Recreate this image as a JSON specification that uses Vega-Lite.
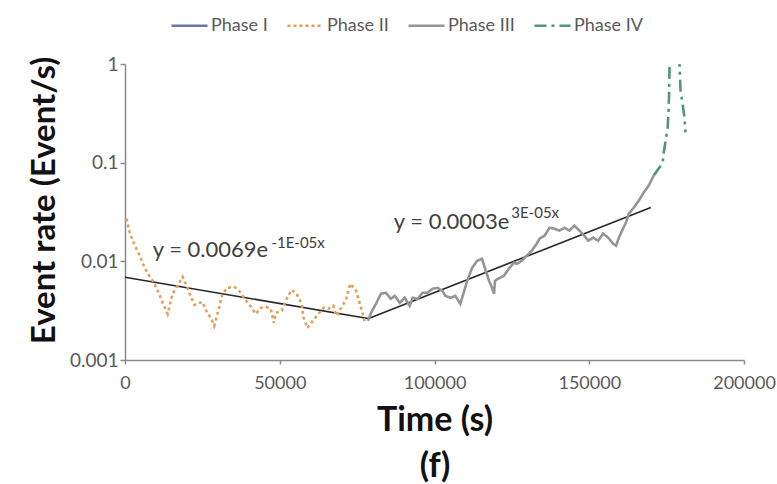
{
  "$schema": "https://vega.github.io/schema/vega-lite/v6.json",
  "width": 619,
  "height": 296,
  "autosize": {"type": "none"},
  "padding": {"left": 125, "top": 64, "right": 33, "bottom": 124},
  "background": "white",
  "config": {
    "view": {"stroke": null},
    "font": "Lato",
    "axis": {"grid": false, "domainColor": "#8a8a8a", "domainWidth": 1.5, "tickColor": "#8a8a8a", "tickWidth": 1.5, "labelColor": "#595959", "labelFont": "Lato", "titleFont": "Lato", "titleColor": "#111111", "labelFlush": false}
  },
  "datasets": {
    "phases": [
      {"phase": "Phase II", "t": 500, "v": 0.0271},
      {"phase": "Phase II", "t": 1600, "v": 0.0191},
      {"phase": "Phase II", "t": 3200, "v": 0.0144},
      {"phase": "Phase II", "t": 4810, "v": 0.0114},
      {"phase": "Phase II", "t": 5770, "v": 0.00946},
      {"phase": "Phase II", "t": 7370, "v": 0.00748},
      {"phase": "Phase II", "t": 8970, "v": 0.00635},
      {"phase": "Phase II", "t": 10580, "v": 0.00502},
      {"phase": "Phase II", "t": 12180, "v": 0.0038},
      {"phase": "Phase II", "t": 13780, "v": 0.00293},
      {"phase": "Phase II", "t": 14420, "v": 0.00354},
      {"phase": "Phase II", "t": 15380, "v": 0.00469},
      {"phase": "Phase II", "t": 16990, "v": 0.00565},
      {"phase": "Phase II", "t": 18590, "v": 0.00697},
      {"phase": "Phase II", "t": 20190, "v": 0.00539},
      {"phase": "Phase II", "t": 21150, "v": 0.00447},
      {"phase": "Phase II", "t": 22440, "v": 0.00362},
      {"phase": "Phase II", "t": 25000, "v": 0.00388},
      {"phase": "Phase II", "t": 26280, "v": 0.00315},
      {"phase": "Phase II", "t": 27880, "v": 0.00261},
      {"phase": "Phase II", "t": 28850, "v": 0.00222},
      {"phase": "Phase II", "t": 29490, "v": 0.00267},
      {"phase": "Phase II", "t": 30450, "v": 0.00346},
      {"phase": "Phase II", "t": 31410, "v": 0.00458},
      {"phase": "Phase II", "t": 33010, "v": 0.00539},
      {"phase": "Phase II", "t": 35260, "v": 0.00552},
      {"phase": "Phase II", "t": 36860, "v": 0.00502},
      {"phase": "Phase II", "t": 38460, "v": 0.00427},
      {"phase": "Phase II", "t": 40700, "v": 0.00346},
      {"phase": "Phase II", "t": 42310, "v": 0.00293},
      {"phase": "Phase II", "t": 43910, "v": 0.00338},
      {"phase": "Phase II", "t": 45510, "v": 0.00346},
      {"phase": "Phase II", "t": 47110, "v": 0.0033},
      {"phase": "Phase II", "t": 48080, "v": 0.00238},
      {"phase": "Phase II", "t": 48720, "v": 0.003},
      {"phase": "Phase II", "t": 50640, "v": 0.00315},
      {"phase": "Phase II", "t": 52240, "v": 0.00417},
      {"phase": "Phase II", "t": 53850, "v": 0.00514},
      {"phase": "Phase II", "t": 55450, "v": 0.00469},
      {"phase": "Phase II", "t": 57050, "v": 0.00371},
      {"phase": "Phase II", "t": 57690, "v": 0.00267},
      {"phase": "Phase II", "t": 58970, "v": 0.00211},
      {"phase": "Phase II", "t": 60900, "v": 0.00255},
      {"phase": "Phase II", "t": 62500, "v": 0.00293},
      {"phase": "Phase II", "t": 64100, "v": 0.00338},
      {"phase": "Phase II", "t": 65700, "v": 0.0033},
      {"phase": "Phase II", "t": 67300, "v": 0.00354},
      {"phase": "Phase II", "t": 68270, "v": 0.0028},
      {"phase": "Phase II", "t": 69870, "v": 0.00338},
      {"phase": "Phase II", "t": 71470, "v": 0.00417},
      {"phase": "Phase II", "t": 72750, "v": 0.00592},
      {"phase": "Phase II", "t": 74680, "v": 0.00502},
      {"phase": "Phase II", "t": 76280, "v": 0.00338},
      {"phase": "Phase II", "t": 77560, "v": 0.00238},
      {"phase": "Phase III", "t": 78520, "v": 0.00249},
      {"phase": "Phase III", "t": 79480, "v": 0.003},
      {"phase": "Phase III", "t": 81090, "v": 0.00371},
      {"phase": "Phase III", "t": 82690, "v": 0.00469},
      {"phase": "Phase III", "t": 84290, "v": 0.0048},
      {"phase": "Phase III", "t": 85890, "v": 0.00417},
      {"phase": "Phase III", "t": 87180, "v": 0.00447},
      {"phase": "Phase III", "t": 88780, "v": 0.0038},
      {"phase": "Phase III", "t": 90380, "v": 0.00427},
      {"phase": "Phase III", "t": 91980, "v": 0.00354},
      {"phase": "Phase III", "t": 92950, "v": 0.00427},
      {"phase": "Phase III", "t": 94550, "v": 0.00417},
      {"phase": "Phase III", "t": 96150, "v": 0.0048},
      {"phase": "Phase III", "t": 97750, "v": 0.0048},
      {"phase": "Phase III", "t": 99350, "v": 0.00527},
      {"phase": "Phase III", "t": 100960, "v": 0.00539},
      {"phase": "Phase III", "t": 102560, "v": 0.00502},
      {"phase": "Phase III", "t": 103520, "v": 0.00447},
      {"phase": "Phase III", "t": 105120, "v": 0.00427},
      {"phase": "Phase III", "t": 106730, "v": 0.00447},
      {"phase": "Phase III", "t": 108330, "v": 0.00371},
      {"phase": "Phase III", "t": 109610, "v": 0.00502},
      {"phase": "Phase III", "t": 110570, "v": 0.00635},
      {"phase": "Phase III", "t": 112170, "v": 0.00861},
      {"phase": "Phase III", "t": 113780, "v": 0.01014},
      {"phase": "Phase III", "t": 115380, "v": 0.01062},
      {"phase": "Phase III", "t": 116340, "v": 0.00841},
      {"phase": "Phase III", "t": 117620, "v": 0.00635},
      {"phase": "Phase III", "t": 118590, "v": 0.00539},
      {"phase": "Phase III", "t": 119230, "v": 0.00469},
      {"phase": "Phase III", "t": 119550, "v": 0.00635},
      {"phase": "Phase III", "t": 121150, "v": 0.00681},
      {"phase": "Phase III", "t": 122430, "v": 0.00714},
      {"phase": "Phase III", "t": 124030, "v": 0.00841},
      {"phase": "Phase III", "t": 125640, "v": 0.00968},
      {"phase": "Phase III", "t": 126600, "v": 0.00946},
      {"phase": "Phase III", "t": 128200, "v": 0.01014},
      {"phase": "Phase III", "t": 129800, "v": 0.0114},
      {"phase": "Phase III", "t": 131410, "v": 0.0128},
      {"phase": "Phase III", "t": 133010, "v": 0.0151},
      {"phase": "Phase III", "t": 133970, "v": 0.017},
      {"phase": "Phase III", "t": 135570, "v": 0.0182},
      {"phase": "Phase III", "t": 137170, "v": 0.0219},
      {"phase": "Phase III", "t": 138780, "v": 0.0214},
      {"phase": "Phase III", "t": 140380, "v": 0.0205},
      {"phase": "Phase III", "t": 141980, "v": 0.0219},
      {"phase": "Phase III", "t": 143580, "v": 0.0205},
      {"phase": "Phase III", "t": 145190, "v": 0.023},
      {"phase": "Phase III", "t": 146790, "v": 0.0205},
      {"phase": "Phase III", "t": 148390, "v": 0.0182},
      {"phase": "Phase III", "t": 149670, "v": 0.0162},
      {"phase": "Phase III", "t": 151280, "v": 0.0174},
      {"phase": "Phase III", "t": 152880, "v": 0.0162},
      {"phase": "Phase III", "t": 154480, "v": 0.0191},
      {"phase": "Phase III", "t": 156080, "v": 0.0174},
      {"phase": "Phase III", "t": 157690, "v": 0.0151},
      {"phase": "Phase III", "t": 158650, "v": 0.0144},
      {"phase": "Phase III", "t": 159610, "v": 0.0174},
      {"phase": "Phase III", "t": 160890, "v": 0.0214},
      {"phase": "Phase III", "t": 161850, "v": 0.0247},
      {"phase": "Phase III", "t": 162820, "v": 0.0305},
      {"phase": "Phase III", "t": 164420, "v": 0.0351},
      {"phase": "Phase III", "t": 166020, "v": 0.0413},
      {"phase": "Phase III", "t": 167620, "v": 0.0498},
      {"phase": "Phase III", "t": 169220, "v": 0.0587},
      {"phase": "Phase III", "t": 170830, "v": 0.0741},
      {"phase": "Phase IV", "t": 170830, "v": 0.0741},
      {"phase": "Phase IV", "t": 172430, "v": 0.0873},
      {"phase": "Phase IV", "t": 173710, "v": 0.098},
      {"phase": "Phase IV", "t": 174030, "v": 0.124},
      {"phase": "Phase IV", "t": 174680, "v": 0.168},
      {"phase": "Phase IV", "t": 175320, "v": 0.223},
      {"phase": "Phase IV", "t": 175640, "v": 0.339},
      {"phase": "Phase IV", "t": 175800, "v": 0.505},
      {"phase": "Phase IV", "t": 175960, "v": 1.0},
      {"phase": "Phase IV", "t": 176600, "v": 2.5},
      {"phase": "Phase IV", "t": 177560, "v": 4.0},
      {"phase": "Phase IV", "t": 178520, "v": 2.5},
      {"phase": "Phase IV", "t": 179160, "v": 1.0},
      {"phase": "Phase IV", "t": 179480, "v": 0.542},
      {"phase": "Phase IV", "t": 180120, "v": 0.4},
      {"phase": "Phase IV", "t": 180770, "v": 0.288},
      {"phase": "Phase IV", "t": 181090, "v": 0.203}
    ],
    "trends": [
      {"fit": "II", "t": 0, "v": 0.0069},
      {"fit": "II", "t": 79000, "v": 0.00262},
      {"fit": "III", "t": 78520, "v": 0.00262},
      {"fit": "III", "t": 169900, "v": 0.0351}
    ],
    "labels": [
      {"kind": "main", "t": 8970, "v": 0.01303, "text": "y = 0.0069e"},
      {"kind": "sup", "t": 47300, "v": 0.0155, "text": "-1E-05x"},
      {"kind": "main", "t": 86860, "v": 0.02505, "text": "y = 0.0003e"},
      {"kind": "sup", "t": 124800, "v": 0.0311, "text": "3E-05x"}
    ]
  },
  "layer": [
    {
      "data": {"name": "trends"},
      "mark": {"type": "line", "color": "#262626", "strokeWidth": 1.6},
      "encoding": {
        "x": {"field": "t", "type": "quantitative"},
        "y": {"field": "v", "type": "quantitative"},
        "detail": {"field": "fit"}
      }
    },
    {
      "data": {"name": "phases"},
      "mark": {"type": "line", "clip": true, "strokeWidth": 2.6, "strokeCap": "butt"},
      "encoding": {
        "x": {
          "field": "t", "type": "quantitative",
          "scale": {"domain": [0, 200000], "nice": false},
          "axis": {"values": [0, 50000, 100000, 150000, 200000], "format": "d", "labelFontSize": 18, "tickSize": 4, "labelPadding": 10, "title": ["Time (s)", "(f)"], "titleFontSize": 34, "titleFontWeight": "bold", "titleLineHeight": 46, "titlePadding": 11}
        },
        "y": {
          "field": "v", "type": "quantitative",
          "scale": {"type": "log", "domain": [0.001, 1], "nice": false},
          "axis": {"values": [0.001, 0.01, 0.1, 1], "format": "~g", "labelFontSize": 19, "tickSize": 5, "labelPadding": 2, "title": "Event rate (Event/s)", "titleFontSize": 33, "titleFontWeight": "bold", "titlePadding": 8, "titleY": 136}
        },
        "color": {
          "field": "phase", "type": "nominal",
          "scale": {"domain": ["Phase I", "Phase II", "Phase III", "Phase IV"], "range": ["#6878a8", "#e2a05c", "#959595", "#53957a"]},
          "legend": {"title": null, "orient": "none", "direction": "horizontal", "legendX": 45, "legendY": -58, "symbolType": "stroke", "symbolSize": 1300, "symbolStrokeWidth": 2.5, "labelFontSize": 18, "labelColor": "#595959", "labelFont": "Lato", "columnPadding": 14, "labelOffset": 2}
        },
        "strokeDash": {
          "field": "phase", "type": "nominal",
          "scale": {"domain": ["Phase I", "Phase II", "Phase III", "Phase IV"], "range": [[1, 0], [3, 3], [1, 0], [12, 5, 3, 5]]},
          "legend": {"title": null, "orient": "none", "direction": "horizontal", "legendX": 45, "legendY": -58, "symbolType": "stroke", "symbolSize": 1300, "symbolStrokeWidth": 2.5, "labelFontSize": 18, "labelColor": "#595959", "labelFont": "Lato", "columnPadding": 14, "labelOffset": 2}
        }
      }
    },
    {
      "data": {"name": "labels"},
      "transform": [{"filter": "datum.kind === 'main'"}],
      "mark": {"type": "text", "align": "left", "baseline": "middle", "fontSize": 22, "color": "#404040", "font": "Lato"},
      "encoding": {
        "x": {"field": "t", "type": "quantitative"},
        "y": {"field": "v", "type": "quantitative"},
        "text": {"field": "text"}
      }
    },
    {
      "data": {"name": "labels"},
      "transform": [{"filter": "datum.kind === 'sup'"}],
      "mark": {"type": "text", "align": "left", "baseline": "middle", "fontSize": 15, "color": "#404040", "font": "Lato"},
      "encoding": {
        "x": {"field": "t", "type": "quantitative"},
        "y": {"field": "v", "type": "quantitative"},
        "text": {"field": "text"}
      }
    }
  ]
}
